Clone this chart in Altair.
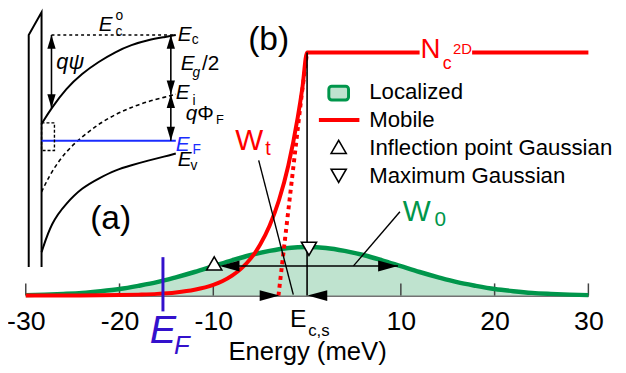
import altair as alt
import pandas as pd

FONT = "Liberation Sans"
RED = "#ff0000"
GREEN = "#00964b"
GREEN_FILL = "#bfe3cf"
BLUE_MAIN = "#3311cc"
BLUE_INSET = "#1a2cff"

# ---------------- panel (b) data ----------------
energy_ticks = [-30, -20, -10, 10, 20, 30]

gauss_E = [-30, -28, -26, -24, -22, -20, -18, -16, -14, -12, -10, -8, -6, -4, -2, 0,
           2, 4, 6, 8, 10, 12, 14, 16, 18, 20, 22, 24, 26, 28, 30]
gauss_dos = [0.002, 0.004, 0.007, 0.011, 0.018, 0.027, 0.040, 0.055, 0.075, 0.097, 0.121,
             0.145, 0.167, 0.184, 0.196, 0.200, 0.196, 0.184, 0.167, 0.145, 0.121, 0.097,
             0.075, 0.055, 0.040, 0.027, 0.018, 0.011, 0.007, 0.004, 0.002]

mobile_E = [-30, -26, -22, -20, -18, -16, -14, -12, -10, -9, -8, -7, -6, -5, -4, -3, -2, -1, -0.5, 0, 12.0]
mobile_dos = [0.0, 0.0003, 0.001, 0.002, 0.004, 0.007, 0.013, 0.024, 0.044, 0.060, 0.082, 0.112,
              0.153, 0.210, 0.287, 0.392, 0.535, 0.732, 0.855, 1.0, 1.0]
mobile2_E = [17.6, 30]
mobile2_dos = [1.0, 1.0]

tail_fit_E = [-3.05, -2.45, -1.85, -1.25, -0.65, 0.0]
tail_fit_dos = [0.0, 0.2, 0.4, 0.6, 0.8, 1.0]

# annotation segments (energy, dos)
seg_x1 = [0.0, -5.16, 4.95, -9.0, -15.37]
seg_y1 = [0.0, 0.556, 0.122, 0.1218, 0.158]
seg_x2 = [0.0, -1.47, 9.9, 9.7, -15.37]
seg_y2 = [1.0, 0.004, 0.345, 0.1218, -0.065]
seg_col = ["black", "black", "black", "black", BLUE_MAIN]
seg_w = [1.6, 1.4, 1.4, 1.6, 3.0]

# filled arrow heads
RIGHT_HEAD = "M-1,-0.55L1,0L-1,0.55Z"
LEFT_HEAD = "M1,-0.55L-1,0L1,0.55Z"
head_E = [-4.0, 1.1, -8.26, 8.63]
head_dos = [0.0, 0.0, 0.1218, 0.1218]
head_shape = [RIGHT_HEAD, LEFT_HEAD, LEFT_HEAD, RIGHT_HEAD]

# gaussian markers (open triangles)
UP_TRI = "M0,-0.9L0.95,0.75L-0.95,0.75Z"
DOWN_TRI = "M0,0.9L0.95,-0.75L-0.95,-0.75Z"
mark_E = [-9.9, 0.2, 3.37, 3.37]
mark_dos = [0.13, 0.195, 0.609, 0.495]
mark_shape = [UP_TRI, DOWN_TRI, UP_TRI, DOWN_TRI]

# legend swatches
legend_rect = {"x1": [2.32], "x2": [4.42], "y1": [0.861], "y2": [0.804]}
legend_line = {"x1": [1.26], "x2": [5.58], "y": [0.7225]}

# panel (b) texts
txt_label = ["(b)", "W", "t", "W", "0", "N", "c", "2D", "E", "c,s", "E", "F",
             "Localized", "Mobile", "Inflection point Gaussian", "Maximum Gaussian"]
txt_E = [-4.1, -6.16, -4.16, 11.7, 14.2, 13.16, 14.95, 16.58, -0.95, 1.26, -15.37, -13.37,
         6.63, 6.63, 6.63, 6.63]
txt_dos = [1.051, 0.637, 0.601, 0.345, 0.3085, 1.01, 0.954, 1.015, -0.097, -0.146, -0.146, -0.207,
           0.836, 0.722, 0.605, 0.491]
txt_size = [34, 30, 20, 30, 21, 28, 18, 15, 25, 17, 40, 26, 22.5, 22.5, 22.5, 22.5]
txt_color = ["black", RED, RED, GREEN, GREEN, RED, RED, RED, "black", "black", BLUE_MAIN, BLUE_MAIN,
             "black", "black", "black", "black"]
txt_style = ["normal"] * 10 + ["italic", "italic"] + ["normal"] * 4
txt_align = ["center"] * 12 + ["left"] * 4

# ---------------- panel (a) data (depth d, band energy v) ----------------
band_d = [0, 0.074, 0.184, 0.301, 0.426, 0.551, 0.669, 0.794, 0.919, 1.0]
band_Ec = [0.25, 0.383, 0.55, 0.675, 0.775, 0.858, 0.917, 0.958, 0.983, 1.0]
band_Ei = [-0.325, -0.15, 0.02, 0.14, 0.25, 0.33, 0.39, 0.44, 0.475, 0.5]
band_Ev = [-0.833, -0.58, -0.42, -0.29, -0.21, -0.14, -0.10, -0.06, -0.025, 0.0]

wall_d = [-0.0956, -0.0956, 0.0, 0.0]
wall_v = [-0.958, 1.0, 1.1917, -0.958]

ecflat_d = [0.074, 1.0]
ecflat_v = [1.0, 1.0]
ef_d = [0.0, 1.0]
ef_v = [0.108, 0.108]
box_d = [0.0, 0.096, 0.096, 0.0, 0.0]
box_v = [0.258, 0.258, 0.025, 0.025, 0.258]

arr_d1 = [0.074, 0.963, 0.963]
arr_v1 = [1.0, 1.0, 0.5]
arr_v2 = [0.383, 0.5, 0.108]

UP_HEAD = "M0,-1L0.6,1L-0.6,1Z"
DOWN_HEAD = "M0,1L0.6,-1L-0.6,-1Z"
ahead_d = [0.074, 0.074, 0.963, 0.963, 0.963, 0.963]
ahead_v = [0.942, 0.441, 0.942, 0.558, 0.442, 0.166]
ahead_shape = [UP_HEAD, DOWN_HEAD, UP_HEAD, DOWN_HEAD, UP_HEAD, DOWN_HEAD]

itxt_label = ["qψ", "E", "c", "o", "E", "c", "E", "g", "/2", "E", "i", "q", "Φ", "F",
              "E", "F", "E", "v", "(a)"]
itxt_d = [0.110, 0.426, 0.551, 0.551, 1.015, 1.118, 1.037, 1.125, 1.195, 1.0, 1.125, 1.074, 1.16, 1.30,
          1.0, 1.125, 1.015, 1.11, 0.515]
itxt_v = [0.775, 1.083, 1.025, 1.158, 1.0, 0.958, 0.758, 0.675, 0.758, 0.508, 0.442, 0.33, 0.33, 0.28,
          0.067, 0.025, -0.058, -0.108, -0.558]
itxt_size = [22, 21, 14, 14, 21, 14, 21, 14, 21, 21, 14, 21, 21, 13, 21, 14, 21, 14, 34]
itxt_color = ["black"] * 14 + [BLUE_INSET, BLUE_INSET] + ["black"] * 3
itxt_style = ["italic", "italic", "normal", "normal", "italic", "normal", "italic", "italic", "normal",
              "italic", "normal", "italic", "normal", "normal", "italic", "normal", "italic", "normal", "normal"]
itxt_align = ["left"] * 18 + ["center"]

# ---------------- scales ----------------
xs = alt.Scale(domain=[-30, 30], nice=False, zero=False)
ys = alt.Scale(domain=[0, 1.1488], nice=False, zero=False)
ds = alt.Scale(domain=[-0.1176, 4.0735], nice=False, zero=False)
vs = alt.Scale(domain=[-1.2, 1.15833], nice=False, zero=False)

x_axis = alt.Axis(values=energy_ticks, ticks=False, grid=False, domainColor="#444444",
                  domainWidth=1.5, labelFont=FONT, labelFontSize=27, labelColor="black",
                  labelPadding=13, labelFlush=False, labelExpr="'' + datum.value",
                  title="Energy (meV)", titleFont=FONT,
                  titleFontSize=26, titleFontWeight="normal", titleColor="black", titlePadding=5)


def MX(f):
    return alt.X(f, type="quantitative", scale=xs, axis=x_axis)


def MY(f):
    return alt.Y(f, type="quantitative", scale=ys, axis=None)


def IX(f):
    return alt.X(f, type="quantitative", scale=ds, axis=None)


def IY(f):
    return alt.Y(f, type="quantitative", scale=vs, axis=None)


# ---------------- panel (b) layers ----------------
gdf = pd.DataFrame({"E": gauss_E, "dos": gauss_dos})
area = alt.Chart(gdf).mark_area(color=GREEN_FILL, interpolate="monotone").encode(x=MX("E"), y=MY("dos"))
gline = alt.Chart(gdf).mark_line(color=GREEN, strokeWidth=4.5, interpolate="monotone").encode(
    x=MX("E"), y=MY("dos"))

tdf = pd.DataFrame({"E": energy_ticks, "y0": [0.0] * 6, "y1": [0.05] * 6})
ticks = alt.Chart(tdf).mark_rule(color="#444444", strokeWidth=1.5).encode(
    x=MX("E"), y=MY("y0"), y2=alt.Y2("y1"))

mdf = pd.concat([
    pd.DataFrame({"E": mobile_E, "dos": mobile_dos, "seg": "a"}),
    pd.DataFrame({"E": mobile2_E, "dos": mobile2_dos, "seg": "b"}),
])
mline = alt.Chart(mdf).mark_line(color=RED, strokeWidth=4, interpolate="monotone").encode(
    x=MX("E"), y=MY("dos"), detail="seg:N")

fdf = pd.DataFrame({"E": tail_fit_E, "dos": tail_fit_dos})
fline = alt.Chart(fdf).mark_line(color=RED, strokeWidth=4, strokeDash=[4, 4], interpolate="monotone").encode(
    x=MX("E"), y=MY("dos"))

sdf = pd.DataFrame({"x1": seg_x1, "y1": seg_y1, "x2": seg_x2, "y2": seg_y2, "c": seg_col, "w": seg_w})
segs = alt.Chart(sdf).mark_rule().encode(
    x=MX("x1"), x2=alt.X2("x2"), y=MY("y1"), y2=alt.Y2("y2"),
    color=alt.Color("c:N", scale=None), strokeWidth=alt.StrokeWidth("w:Q", scale=None))

hdf = pd.DataFrame({"E": head_E, "dos": head_dos, "s": head_shape})
heads = alt.Chart(hdf).mark_point(filled=True, color="black", opacity=1, size=400).encode(
    x=MX("E"), y=MY("dos"), shape=alt.Shape("s:N", scale=None))

kdf = pd.DataFrame({"E": mark_E, "dos": mark_dos, "s": mark_shape})
marks = alt.Chart(kdf).mark_point(filled=True, fill="white", stroke="black", strokeWidth=1.6,
                                  opacity=1, size=260).encode(
    x=MX("E"), y=MY("dos"), shape=alt.Shape("s:N", scale=None))

ldf = pd.DataFrame(legend_rect)
lrect = alt.Chart(ldf).mark_rect(fill=GREEN_FILL, stroke=GREEN, strokeWidth=3, cornerRadius=3).encode(
    x=MX("x1"), x2=alt.X2("x2"), y=MY("y1"), y2=alt.Y2("y2"))
lldf = pd.DataFrame(legend_line)
lline = alt.Chart(lldf).mark_rule(color=RED, strokeWidth=4).encode(
    x=MX("x1"), x2=alt.X2("x2"), y=MY("y"))

main_layers = [area, ticks, gline, mline, fline, segs, heads, marks, lrect, lline]
for i in range(len(txt_label)):
    d = pd.DataFrame({"E": [txt_E[i]], "dos": [txt_dos[i]], "t": [txt_label[i]]})
    main_layers.append(
        alt.Chart(d).mark_text(font=FONT, fontSize=txt_size[i], color=txt_color[i],
                               fontStyle=txt_style[i], align=txt_align[i], baseline="middle").encode(
            x=MX("E"), y=MY("dos"), text="t:N"))

main = alt.layer(*main_layers)

# ---------------- panel (a) layers ----------------
bdf = pd.DataFrame({"d": band_d, "Ec": band_Ec, "Ei": band_Ei, "Ev": band_Ev})
ec = alt.Chart(bdf).mark_line(color="black", strokeWidth=2, interpolate="basis").encode(x=IX("d"), y=IY("Ec"))
ei = alt.Chart(bdf).mark_line(color="black", strokeWidth=1.6, strokeDash=[4, 3], interpolate="basis").encode(
    x=IX("d"), y=IY("Ei"))
ev = alt.Chart(bdf).mark_line(color="black", strokeWidth=2, interpolate="basis").encode(x=IX("d"), y=IY("Ev"))

wdf = pd.DataFrame({"d": wall_d, "v": wall_v, "o": list(range(4))})
wall = alt.Chart(wdf).mark_line(color="black", strokeWidth=2).encode(x=IX("d"), y=IY("v"), order="o:Q")

cfdf = pd.DataFrame({"d": ecflat_d, "v": ecflat_v})
ecflat = alt.Chart(cfdf).mark_line(color="black", strokeWidth=1.5, strokeDash=[3, 3]).encode(x=IX("d"), y=IY("v"))
efdf = pd.DataFrame({"d": ef_d, "v": ef_v})
efl = alt.Chart(efdf).mark_line(color=BLUE_INSET, strokeWidth=2).encode(x=IX("d"), y=IY("v"))
bxdf = pd.DataFrame({"d": box_d, "v": box_v, "o": list(range(5))})
box = alt.Chart(bxdf).mark_line(color="black", strokeWidth=1.4, strokeDash=[3, 2]).encode(
    x=IX("d"), y=IY("v"), order="o:Q")

adf = pd.DataFrame({"d": arr_d1, "v1": arr_v1, "v2": arr_v2})
arrs = alt.Chart(adf).mark_rule(color="black", strokeWidth=1.6).encode(x=IX("d"), y=IY("v1"), y2=alt.Y2("v2"))
ahdf = pd.DataFrame({"d": ahead_d, "v": ahead_v, "s": ahead_shape})
aheads = alt.Chart(ahdf).mark_point(filled=True, color="black", opacity=1, size=196).encode(
    x=IX("d"), y=IY("v"), shape=alt.Shape("s:N", scale=None))

inset_layers = [ec, ei, ev, wall, ecflat, efl, box, arrs, aheads]
for i in range(len(itxt_label)):
    d = pd.DataFrame({"d": [itxt_d[i]], "v": [itxt_v[i]], "t": [itxt_label[i]]})
    inset_layers.append(
        alt.Chart(d).mark_text(font=FONT, fontSize=itxt_size[i], color=itxt_color[i],
                               fontStyle=itxt_style[i], align=itxt_align[i], baseline="middle").encode(
            x=IX("d"), y=IY("v"), text="t:N"))

inset = alt.layer(*inset_layers)

chart = alt.layer(main, inset).resolve_scale(x="independent", y="independent").properties(
    width=570, height=283,
    autosize=alt.AutoSizeParams(type="none"),
    padding={"left": 18, "top": 6, "right": 30, "bottom": 70},
    background="white",
).configure_view(stroke=None)

chart.save("out.html", embed_options={"renderer": "svg", "actions": False})
